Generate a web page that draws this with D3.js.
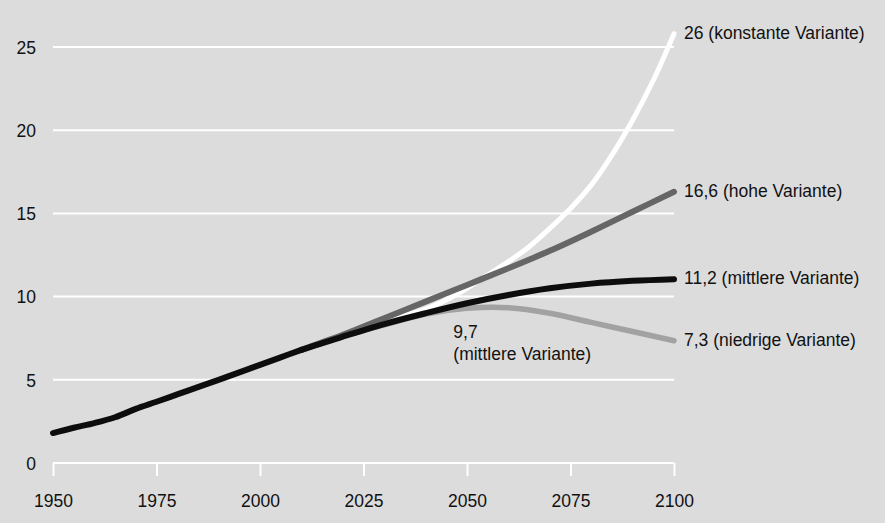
<!DOCTYPE html>
<html><head><meta charset="utf-8">
<script src="https://cdn.jsdelivr.net/npm/d3@7"></script>
<style>
html,body{margin:0;padding:0;background:#dcdcdc;}
svg{display:block;}
text{font-family:"Liberation Sans",Arial,sans-serif;fill:#111111;}
</style></head><body>
<svg id="chart" width="885" height="523"></svg>
<script>
// Historische Entwicklung (Mrd.)
const histYears  = [1950,1955,1960,1965,1970,1975,1980,1985,1990,1995,2000,2005,2010];
const histValues = [1.8,2.12,2.4,2.75,3.25,3.68,4.12,4.56,5.0,5.45,5.9,6.35,6.8];
// Projektionen
const projYears      = [2010,2020,2030,2040,2050,2060,2070,2080,2090,2100];
const mediumValues   = [6.8,7.6,8.35,9.0,9.6,10.1,10.5,10.78,10.95,11.05];
const highValues     = [6.8,7.7,8.7,9.7,10.7,11.7,12.75,13.9,15.1,16.3];
const lowValues      = [6.8,7.6,8.3,8.95,9.3,9.33,9.0,8.45,7.9,7.35];
const constYears     = [2010,2020,2030,2040,2045,2050,2055,2060,2065,2070,2075,2080,2085,2090,2095,2100];
const constValues    = [6.8,7.6,8.5,9.25,9.8,10.5,11.3,12.1,13.0,14.1,15.3,16.7,18.5,20.6,23.0,25.8];
const xTicks = [1950,1975,2000,2025,2050,2075,2100];
const yTicks = [0,5,10,15,20,25];
const endLabels = ["26 (konstante Variante)","16,6 (hohe Variante)","11,2 (mittlere Variante)","7,3 (niedrige Variante)"];
const midLabel = ["9,7","(mittlere Variante)"];

const svg = d3.select("#chart");
const x = d3.scaleLinear().domain([1950,2100]).range([53,674]);
const y = d3.scaleLinear().domain([0,25]).range([463,47]);
const FONT = "Liberation Sans, Arial, sans-serif";

// grid lines
svg.append("g").selectAll("line").data(yTicks).join("line")
  .attr("x1", x(1950)).attr("x2", x(2100))
  .attr("y1", d=>y(d)).attr("y2", d=>y(d))
  .attr("stroke","#ffffff").attr("stroke-width",2);

// y axis labels
const yAxis = svg.append("g").attr("transform","translate(36,0)")
  .call(d3.axisLeft(y).tickValues(yTicks).tickSize(0).tickPadding(0));
yAxis.select(".domain").remove();
yAxis.selectAll("text").attr("font-size",17.5).attr("font-family",FONT).attr("fill","#111").attr("dy","0.36em");

// x axis
const xAxis = svg.append("g").attr("transform",`translate(0,${y(0)})`)
  .call(d3.axisBottom(x).tickValues(xTicks).tickFormat(d3.format("d")).tickSize(13).tickPadding(19));
xAxis.select(".domain").remove();
xAxis.selectAll("line").attr("stroke","#ffffff").attr("stroke-width",2);
xAxis.selectAll("text").attr("font-size",17.5).attr("font-family",FONT).attr("fill","#111");

const line = d3.line().x(d=>x(d[0])).y(d=>y(d[1])).curve(d3.curveCatmullRom.alpha(0.5));
const zip = (a,b)=>a.map((v,i)=>[v,b[i]]);

function draw(data,color,w){
  svg.append("path").datum(data).attr("d",line)
    .attr("fill","none").attr("stroke",color).attr("stroke-width",w)
    .attr("stroke-linecap","round").attr("stroke-linejoin","round");
}
draw(zip(constYears,constValues),"#ffffff",5);
draw(zip(projYears,lowValues),"#a2a2a2",5.5);
draw(zip(projYears,highValues),"#666666",6);
draw(zip(projYears,mediumValues),"#0d0d0d",6);
draw(zip(histYears,histValues),"#0d0d0d",6);

// end labels
const endVals = [constValues[constValues.length-1], highValues[highValues.length-1], mediumValues[mediumValues.length-1], lowValues[lowValues.length-1]];
svg.append("g").selectAll("text").data(endLabels).join("text")
  .attr("x", x(2100)+10)
  .attr("y", (d,i)=>y(endVals[i]))
  .attr("dy","0.3em")
  .attr("font-size",17.5)
  .text(d=>d);

// mid label
svg.append("text").attr("y", y(9.7)+36)
  .attr("font-size",17.5)
  .selectAll("tspan").data(midLabel).join("tspan")
  .attr("x", x(2046.7)).attr("dy",(d,i)=>i===0?0:"1.3em").text(d=>d);
</script>
</body></html>
